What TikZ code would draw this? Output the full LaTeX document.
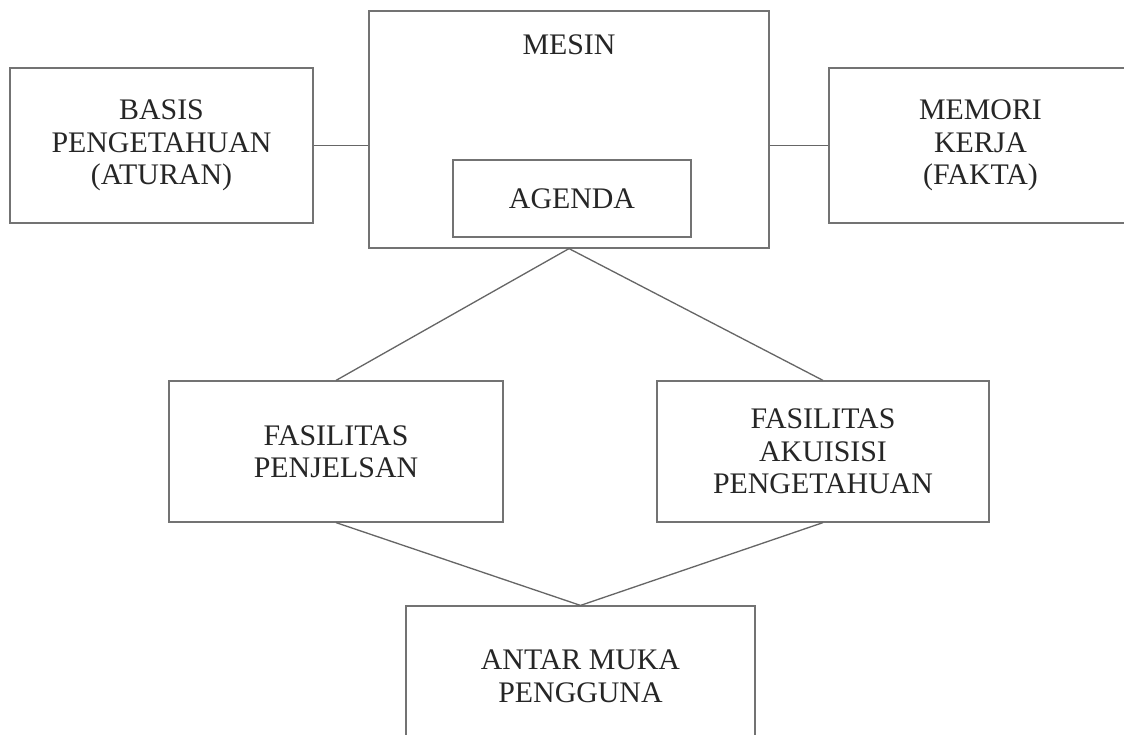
\documentclass[tikz,border=0pt]{standalone}
\usepackage{fontspec}
\setmainfont{Liberation Serif}
\begin{document}
\begin{tikzpicture}[x=0.02cm, y=-0.02cm,
  font=\fontsize{17pt}{18.5pt}\selectfont, text=black!85,
  box/.style={draw=black!55, line width=0.7pt, align=center, inner sep=0pt},
  link/.style={draw=black!60, line width=0.75pt}]

\useasboundingbox (0, 0) rectangle (1124, 734);
\clip (0, 0) rectangle (1124, 734);

\node [box, minimum width=6.06cm, minimum height=3.1cm] (basis) at (161.5, 145.5) {BASIS\\PENGETAHUAN\\(ATURAN)};
\node [box, minimum width=8cm, minimum height=4.74cm,
  label={[anchor=north, inner sep=0pt, yshift=-0.48cm]north:MESIN}] (mesin) at (569, 129.5) {};
\node [box, minimum width=4.76cm, minimum height=1.54cm] (agenda) at (572, 198.5) {AGENDA};
\node [box, minimum width=6.06cm, minimum height=3.1cm] (memori) at (980.5, 145.5) {MEMORI\\KERJA\\(FAKTA)};

\node [box, minimum width=6.68cm, minimum height=2.82cm] (penjelasan) at (336, 451.5) {FASILITAS\\PENJELSAN};
\node [box, minimum width=6.64cm, minimum height=2.82cm] (akuisisi) at (823, 451.5) {FASILITAS\\AKUISISI\\PENGETAHUAN};
\node [box, minimum width=6.98cm, minimum height=2.82cm] (antar) at (580.5, 676.5) {ANTAR MUKA\\PENGGUNA};

\draw [link] (basis.east) -- (basis.east -| mesin.west);
\draw [link] (memori.west) -- (memori.west -| mesin.east);
\draw [link] (penjelasan.north) -- (mesin.south) -- (akuisisi.north);
\draw [link] (penjelasan.south) -- (antar.north) -- (akuisisi.south);

\end{tikzpicture}
\end{document}
